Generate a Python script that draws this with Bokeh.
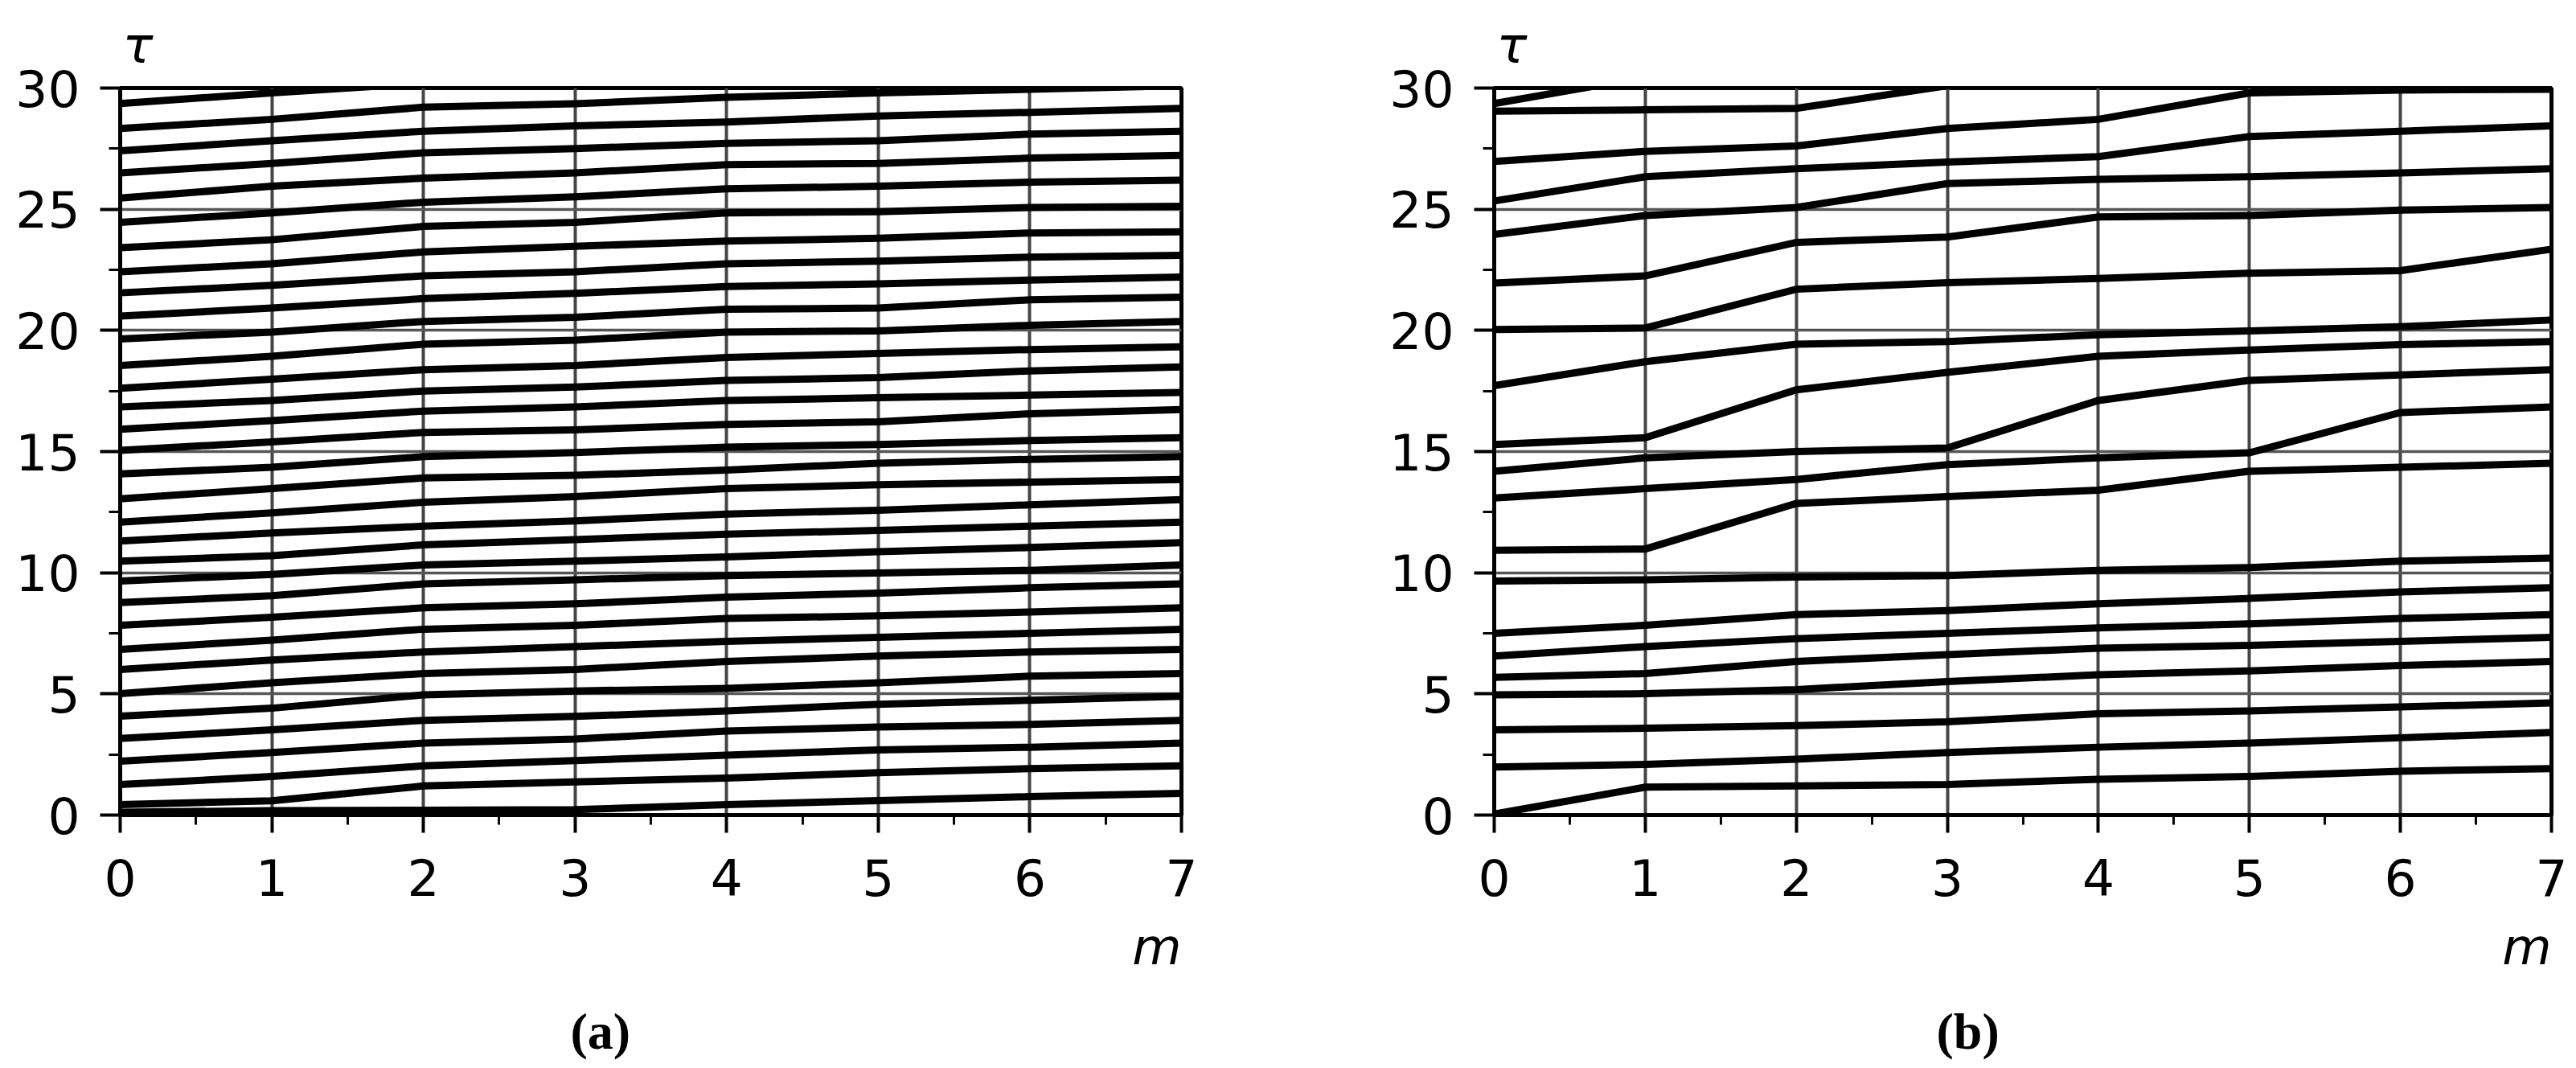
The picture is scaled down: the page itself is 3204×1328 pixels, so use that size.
from bokeh.plotting import figure
from bokeh.layouts import row
from bokeh.models import SingleIntervalTicker, Range1d, Title
from bokeh.embed import file_html
from bokeh.resources import INLINE

# ---------------- data ----------------
m = [0, 1, 2, 3, 4, 5, 6, 7]

# panel (a): tau_k(m) for each trajectory
a01 = [0.12, 0.18, 0.20, 0.22, 0.43, 0.60, 0.76, 0.90]
a02 = [0.43, 0.59, 1.20, 1.37, 1.53, 1.75, 1.92, 2.03]
a03 = [1.26, 1.59, 2.03, 2.25, 2.47, 2.69, 2.80, 2.97]
a04 = [2.22, 2.58, 2.97, 3.14, 3.47, 3.63, 3.74, 3.91]
a05 = [3.16, 3.52, 3.91, 4.07, 4.30, 4.57, 4.74, 4.90]
a06 = [4.08, 4.41, 4.96, 5.12, 5.23, 5.46, 5.73, 5.84]
a07 = [5.01, 5.46, 5.84, 6.01, 6.34, 6.56, 6.73, 6.84]
a08 = [6.01, 6.40, 6.73, 6.95, 7.17, 7.33, 7.50, 7.67]
a09 = [6.84, 7.22, 7.67, 7.83, 8.11, 8.22, 8.38, 8.55]
a10 = [7.83, 8.16, 8.55, 8.72, 8.99, 9.16, 9.38, 9.54]
a11 = [8.77, 9.05, 9.54, 9.71, 9.88, 9.99, 10.10, 10.32]
a12 = [9.66, 9.93, 10.32, 10.48, 10.65, 10.87, 11.04, 11.24]
a13 = [10.48, 10.70, 11.15, 11.37, 11.59, 11.75, 11.92, 12.09]
a14 = [11.31, 11.64, 11.92, 12.14, 12.42, 12.58, 12.80, 13.02]
a15 = [12.09, 12.47, 12.91, 13.14, 13.47, 13.63, 13.74, 13.85]
a16 = [13.05, 13.47, 13.91, 14.02, 14.24, 14.52, 14.68, 14.79]
a17 = [14.08, 14.35, 14.79, 14.96, 15.18, 15.29, 15.46, 15.57]
a18 = [15.05, 15.40, 15.79, 15.90, 16.12, 16.23, 16.56, 16.73]
a19 = [15.92, 16.28, 16.67, 16.84, 17.11, 17.22, 17.33, 17.44]
a20 = [16.84, 17.11, 17.50, 17.66, 17.94, 18.05, 18.33, 18.49]
a21 = [17.61, 17.99, 18.38, 18.55, 18.88, 19.05, 19.21, 19.32]
a22 = [18.55, 18.93, 19.43, 19.60, 19.93, 19.98, 20.21, 20.37]
a23 = [19.65, 19.93, 20.37, 20.54, 20.87, 20.92, 21.26, 21.37]
a24 = [20.59, 20.92, 21.31, 21.53, 21.81, 21.92, 22.08, 22.20]
a25 = [21.55, 21.86, 22.25, 22.42, 22.75, 22.86, 23.02, 23.10]
a26 = [22.42, 22.75, 23.24, 23.47, 23.69, 23.80, 24.02, 24.07]
a27 = [23.41, 23.74, 24.29, 24.46, 24.85, 24.90, 25.07, 25.12]
a28 = [24.46, 24.85, 25.29, 25.51, 25.84, 25.95, 26.12, 26.20]
a29 = [25.46, 25.95, 26.28, 26.50, 26.84, 26.89, 27.11, 27.22]
a30 = [26.50, 26.89, 27.33, 27.50, 27.72, 27.83, 28.10, 28.22]
a31 = [27.41, 27.83, 28.22, 28.44, 28.60, 28.85, 29.00, 29.16]
a32 = [28.33, 28.71, 29.21, 29.35, 29.62, 29.80, 29.95, 30.10]
a33 = [29.36, 29.80, 30.20, 30.40, 30.60, 30.80, 31.00, 31.20]

# panel (b)
b01 = [29.36, 30.45, 31.20, 31.80, 32.30, 32.90, 33.40, 33.90]
b02 = [29.05, 29.10, 29.16, 30.10, 30.60, 31.00, 31.40, 31.80]
b03 = [26.97, 27.39, 27.61, 28.33, 28.71, 29.80, 29.92, 29.95]
b04 = [25.34, 26.34, 26.67, 26.95, 27.17, 28.00, 28.22, 28.44]
b05 = [23.96, 24.74, 25.07, 26.06, 26.23, 26.34, 26.50, 26.67]
b06 = [21.95, 22.25, 23.63, 23.85, 24.68, 24.74, 24.96, 25.07]
b07 = [20.04, 20.10, 21.70, 21.97, 22.14, 22.36, 22.47, 23.35]
b08 = [17.72, 18.71, 19.43, 19.54, 19.82, 19.98, 20.15, 20.43]
b09 = [15.29, 15.57, 17.55, 18.27, 18.93, 19.19, 19.41, 19.54]
b10 = [14.19, 14.74, 15.00, 15.15, 17.11, 17.94, 18.16, 18.38]
b11 = [13.08, 13.47, 13.85, 14.46, 14.74, 14.95, 16.61, 16.84]
b12 = [10.93, 10.98, 12.86, 13.14, 13.41, 14.19, 14.35, 14.52]
b13 = [9.66, 9.71, 9.82, 9.88, 10.10, 10.21, 10.48, 10.60]
b14 = [7.50, 7.83, 8.27, 8.44, 8.72, 8.94, 9.21, 9.38]
b15 = [6.56, 6.95, 7.28, 7.50, 7.72, 7.89, 8.11, 8.27]
b16 = [5.68, 5.84, 6.34, 6.62, 6.89, 7.00, 7.17, 7.33]
b17 = [4.96, 5.01, 5.18, 5.51, 5.79, 5.95, 6.17, 6.34]
b18 = [3.52, 3.58, 3.69, 3.85, 4.18, 4.30, 4.46, 4.63]
b19 = [1.98, 2.09, 2.31, 2.58, 2.80, 2.97, 3.19, 3.41]
b20 = [0.04, 1.15, 1.20, 1.26, 1.48, 1.59, 1.81, 1.92]

lines_a = [a01, a02, a03, a04, a05, a06, a07, a08, a09, a10, a11, a12, a13,
           a14, a15, a16, a17, a18, a19, a20, a21, a22, a23, a24, a25, a26,
           a27, a28, a29, a30, a31, a32, a33]
lines_b = [b01, b02, b03, b04, b05, b06, b07, b08, b09, b10, b11, b12, b13,
           b14, b15, b16, b17, b18, b19, b20]

x_label = "m"
y_label = "τ"
caption_a = "(a)"
caption_b = "(b)"


def make_panel(lines, width, border_left, border_right, caption, cap_offset):
    p = figure(width=width, height=1326,
               x_range=Range1d(0, 7), y_range=Range1d(0, 30),
               output_backend="svg", toolbar_location=None,
               min_border_left=border_left, min_border_right=border_right,
               min_border_top=108, min_border_bottom=313,
               background_fill_color="white", border_fill_color="white")
    p.outline_line_color = "black"
    p.outline_line_width = 5

    p.xaxis.ticker = SingleIntervalTicker(interval=1, num_minor_ticks=2)
    p.yaxis.ticker = SingleIntervalTicker(interval=5, num_minor_ticks=2)
    p.xgrid.ticker = SingleIntervalTicker(interval=1)
    p.ygrid.ticker = SingleIntervalTicker(interval=5)

    p.xgrid.grid_line_color = "#444444"
    p.xgrid.grid_line_width = 4
    p.ygrid.grid_line_color = "#555555"
    p.ygrid.grid_line_width = 3.5

    for ax in (p.xaxis[0], p.yaxis[0]):
        ax.axis_line_color = "black"
        ax.axis_line_width = 5
        ax.major_tick_line_color = "black"
        ax.minor_tick_line_color = "black"
        ax.major_tick_line_width = 4
        ax.minor_tick_line_width = 3
        ax.major_tick_in = 0
        ax.minor_tick_in = 0
        ax.major_label_text_font = "DejaVu Sans"
        ax.major_label_text_font_size = "63px"
        ax.major_label_text_color = "black"
    p.yaxis.major_tick_out = 25
    p.yaxis.minor_tick_out = 14
    p.yaxis.major_label_standoff = 25
    p.xaxis.major_tick_out = 22
    p.xaxis.minor_tick_out = 12
    p.xaxis.major_label_standoff = 32

    for ys in lines:
        p.line(m, ys, line_color="black", line_width=9, line_join="miter")

    p.add_layout(Title(text=y_label, align="left", offset=3, standoff=34,
                       text_font="DejaVu Sans", text_font_style="italic",
                       text_font_size="63px", text_color="black"), "above")
    p.add_layout(Title(text=x_label, align="right", offset=0, standoff=45,
                       text_font="DejaVu Sans", text_font_style="italic",
                       text_font_size="63px", text_color="black"), "below")
    p.add_layout(Title(text=caption, align="left", offset=cap_offset, standoff=17,
                       text_font="Liberation Serif", text_font_style="bold",
                       text_font_size="64px", text_color="black"), "below")
    return p


pa = make_panel(lines_a, 1608, 149, 139, caption_a, 560)
pb = make_panel(lines_b, 1596, 250, 31, caption_b, 550)

layout = row(pa, pb)
open("out.html", "w").write(file_html(layout, INLINE))
